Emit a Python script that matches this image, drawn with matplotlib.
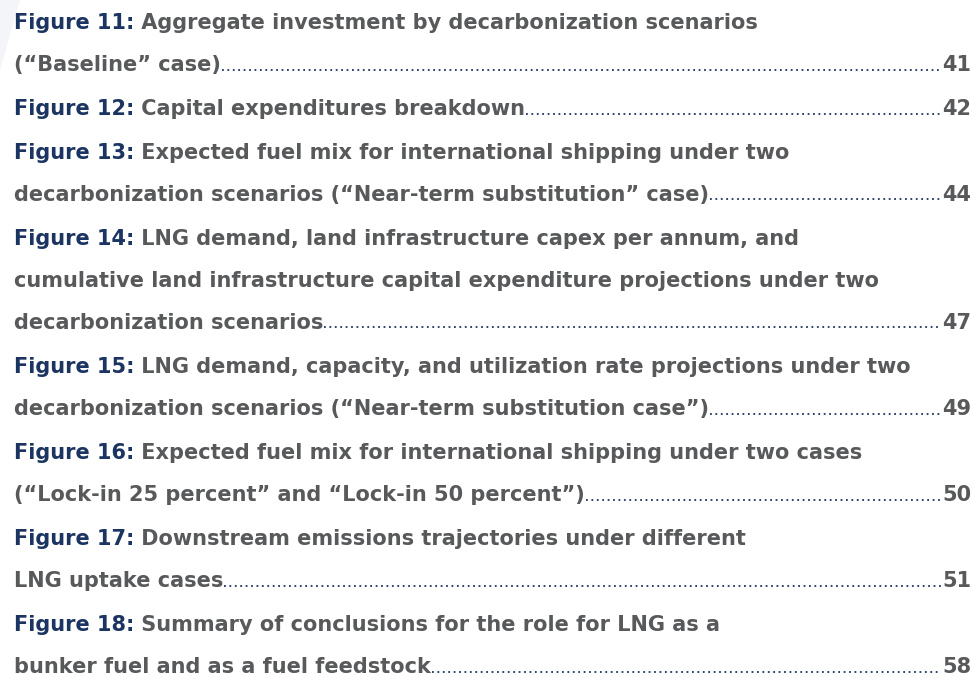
import matplotlib
matplotlib.use("Agg")
import matplotlib.pyplot as plt
from matplotlib.lines import Line2D
from matplotlib.patches import Polygon

labels = ["Figure 11:", "Figure 12:", "Figure 13:", "Figure 14:", "Figure 15:",
          "Figure 16:", "Figure 17:", "Figure 18:"]
titles = [
    ["Aggregate investment by decarbonization scenarios", "(\u201cBaseline\u201d case)"],
    ["Capital expenditures breakdown"],
    ["Expected fuel mix for international shipping under two",
     "decarbonization scenarios (\u201cNear-term substitution\u201d case)"],
    ["LNG demand, land infrastructure capex per annum, and",
     "cumulative land infrastructure capital expenditure projections under two",
     "decarbonization scenarios"],
    ["LNG demand, capacity, and utilization rate projections under two",
     "decarbonization scenarios (\u201cNear-term substitution case\u201d)"],
    ["Expected fuel mix for international shipping under two cases",
     "(\u201cLock-in 25 percent\u201d and \u201cLock-in 50 percent\u201d)"],
    ["Downstream emissions trajectories under different", "LNG uptake cases"],
    ["Summary of conclusions for the role for LNG as a",
     "bunker fuel and as a fuel feedstock"],
]
pages = ["41", "42", "44", "47", "49", "50", "51", "58"]

W, H = 977, 678
fig = plt.figure(figsize=(W / 100, H / 100), dpi=100)
fig.patch.set_facecolor("white")

# faint decorative shading in the top-left corner
fig.add_artist(Polygon([[0, 1], [20 / W, 1], [0, 1 - 70 / H]], closed=True,
                       transform=fig.transFigure, facecolor="#f3f5f8",
                       edgecolor="none", zorder=0))

NAVY = "#1c3461"
GRAY = "#58595b"
FONT = "DejaVu Sans"
WEIGHT = "bold"
renderer = fig.canvas.get_renderer()

# fit font size so the widest line spans like the reference
x0 = 14
target_right = 912
probe = fig.text(0, 0, labels[4] + " " + titles[4][0], fontsize=14, family=FONT, weight=WEIGHT)
wprobe = probe.get_window_extent(renderer).width
probe.remove()
FS = 14 * (target_right - x0) / wprobe

line_gap = 42
entry_gap = 44
x_right = 971
y = 29  # baseline, pixels from top

def fy(py):
    return 1 - py / H

for lab, tl, pg in zip(labels, titles, pages):
    for i, line in enumerate(tl):
        if i == 0:
            t1 = fig.text(x0 / W, fy(y), lab, color=NAVY, fontsize=FS, family=FONT,
                          weight=WEIGHT, va="baseline", ha="left")
            bb = t1.get_window_extent(renderer)
            t2 = fig.text(bb.x1 / W, fy(y), " " + line, color=GRAY, fontsize=FS,
                          family=FONT, weight=WEIGHT, va="baseline", ha="left")
        else:
            t2 = fig.text(x0 / W, fy(y), line, color=GRAY, fontsize=FS, family=FONT,
                          weight=WEIGHT, va="baseline", ha="left")
        if i == len(tl) - 1:
            tb = t2.get_window_extent(renderer)
            tp = fig.text(x_right / W, fy(y), pg, color=GRAY, fontsize=FS, family=FONT,
                          weight=WEIGHT, va="baseline", ha="right")
            pb = tp.get_window_extent(renderer)
            base = H - y + 1.5
            ln = Line2D([(tb.x1 + 1) / W, (pb.x0 - 1) / W], [base / H, base / H],
                        transform=fig.transFigure, color=NAVY, linestyle=(0, (1, 2.0)),
                        linewidth=1.3, dash_capstyle="butt")
            fig.add_artist(ln)
        if i < len(tl) - 1:
            y += line_gap
    y += entry_gap

fig.savefig("out.png", dpi=100, facecolor="white")
